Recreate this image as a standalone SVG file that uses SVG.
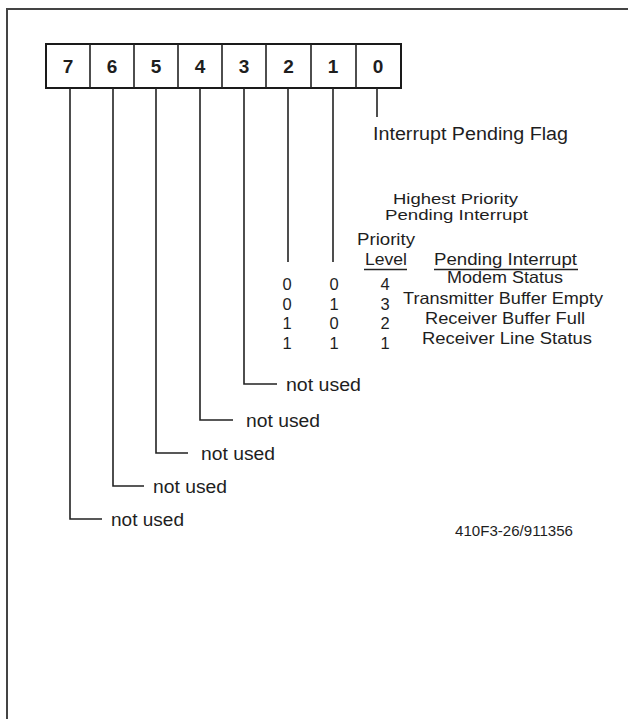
<svg xmlns="http://www.w3.org/2000/svg" width="628" height="719" viewBox="0 0 628 719">
<style>
text{font-family:"Liberation Sans",Arial,Helvetica,sans-serif;fill:#1e1e1e}
.bit{font-size:19px;font-weight:bold;text-anchor:middle}
.lbl{font-size:18px}
.tbl{font-size:16.5px;text-anchor:middle}
.hdr{font-size:15px;text-anchor:middle}
.num{font-size:16.5px;text-anchor:middle}
.ln{stroke:#222;stroke-width:1.6;fill:none}
.box{stroke:#1a1a1a;stroke-width:2;fill:#fff}
.frame{stroke:#444;stroke-width:2;fill:none}
</style>
<rect width="628" height="719" fill="#fff"/>
<path class="frame" d="M7,719 V9 H628"/>
<g id="register">
<rect class="box" x="46" y="44" width="355" height="44"/>
<path class="ln" d="M90,44V88M134,44V88M178,44V88M222,44V88M266,44V88M311,44V88M356,44V88"/>
<text class="bit" x="68" y="73">7</text>
<text class="bit" x="112" y="73">6</text>
<text class="bit" x="156" y="73">5</text>
<text class="bit" x="200" y="73">4</text>
<text class="bit" x="244" y="73">3</text>
<text class="bit" x="288.5" y="73">2</text>
<text class="bit" x="333" y="73">1</text>
<text class="bit" x="378" y="73">0</text>
</g>
<g id="connectors">
<path class="ln" d="M377,88V117"/>
<path class="ln" d="M288,88V262"/>
<path class="ln" d="M333,88V262"/>
<path class="ln" d="M244,88V384H277"/>
<path class="ln" d="M200,88V420H233"/>
<path class="ln" d="M156,88V453H188"/>
<path class="ln" d="M113,88V486H144"/>
<path class="ln" d="M70,88V519H102"/>
</g>
<g id="flag-label">
<text class="lbl" x="373" y="140" textLength="195" lengthAdjust="spacingAndGlyphs">Interrupt Pending Flag</text>
</g>
<g id="priority-table">
<text class="hdr" x="455.5" y="204" textLength="125" lengthAdjust="spacingAndGlyphs">Highest Priority</text>
<text class="hdr" x="456.5" y="220" textLength="143" lengthAdjust="spacingAndGlyphs">Pending Interrupt</text>
<text class="tbl" x="386" y="245" textLength="58" lengthAdjust="spacingAndGlyphs">Priority</text>
<text class="tbl" x="386" y="265" textLength="42" lengthAdjust="spacingAndGlyphs">Level</text>
<text class="tbl" x="505.5" y="265" textLength="143" lengthAdjust="spacingAndGlyphs">Pending Interrupt</text>
<path class="ln" d="M364,269.5H407M434,269.5H578" stroke-width="1.4"/>
<text class="num" x="287" y="290">0</text>
<text class="num" x="334" y="290">0</text>
<text class="num" x="385" y="290">4</text>
<text class="tbl" x="505" y="283" textLength="116" lengthAdjust="spacingAndGlyphs">Modem Status</text>
<text class="num" x="287" y="310">0</text>
<text class="num" x="334" y="310">1</text>
<text class="num" x="385" y="310">3</text>
<text class="tbl" x="503" y="304" textLength="200" lengthAdjust="spacingAndGlyphs">Transmitter Buffer Empty</text>
<text class="num" x="287" y="329">1</text>
<text class="num" x="334" y="329">0</text>
<text class="num" x="385" y="329">2</text>
<text class="tbl" x="505" y="324" textLength="160" lengthAdjust="spacingAndGlyphs">Receiver Buffer Full</text>
<text class="num" x="287" y="349">1</text>
<text class="num" x="334" y="349">1</text>
<text class="num" x="385" y="349">1</text>
<text class="tbl" x="507" y="344" textLength="170" lengthAdjust="spacingAndGlyphs">Receiver Line Status</text>
</g>
<g id="bit3-label"><text class="lbl" x="286" y="391" textLength="75" lengthAdjust="spacingAndGlyphs">not used</text></g>
<g id="bit4-label"><text class="lbl" x="246" y="427" textLength="74" lengthAdjust="spacingAndGlyphs">not used</text></g>
<g id="bit5-label"><text class="lbl" x="201" y="460" textLength="74" lengthAdjust="spacingAndGlyphs">not used</text></g>
<g id="bit6-label"><text class="lbl" x="153" y="493" textLength="74" lengthAdjust="spacingAndGlyphs">not used</text></g>
<g id="bit7-label"><text class="lbl" x="111" y="526" textLength="73" lengthAdjust="spacingAndGlyphs">not used</text></g>
<g id="figure-id"><text x="455" y="536" font-size="14.5" textLength="118" lengthAdjust="spacingAndGlyphs">410F3-26/911356</text></g>
</svg>
